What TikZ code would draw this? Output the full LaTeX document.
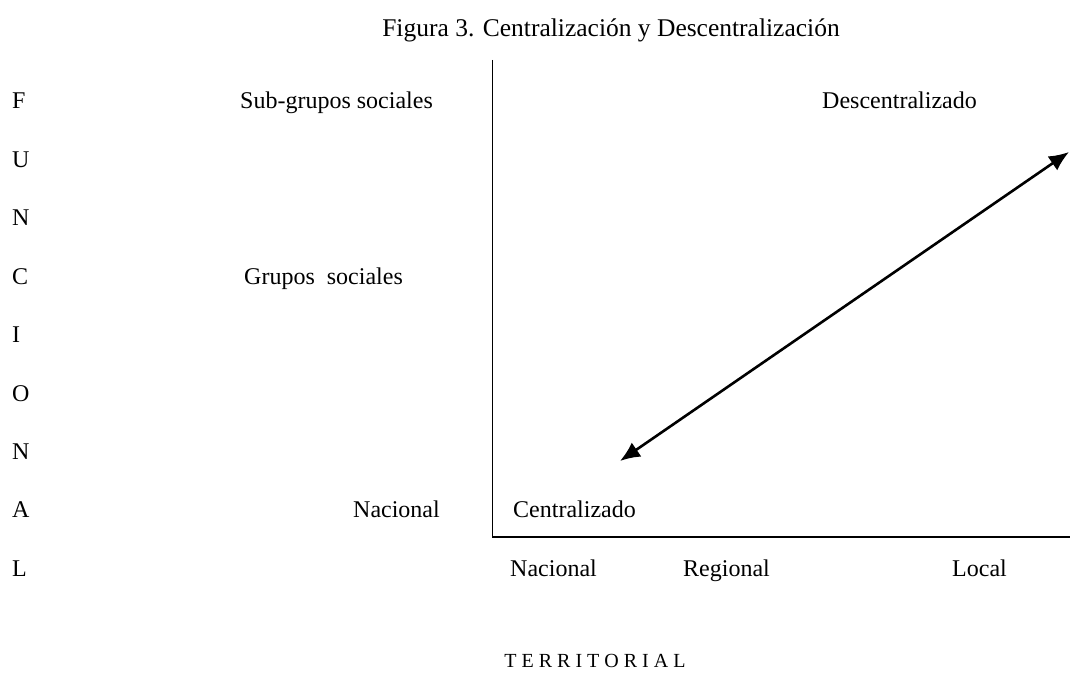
\documentclass[tikz,border=0pt]{standalone}
\usepackage{fontspec}
\setmainfont{Liberation Serif}
\usetikzlibrary{arrows.meta}

\begin{document}
\begin{tikzpicture}[x=1pt,y=-1pt,font=\fontsize{24}{28}\selectfont]
\tikzstyle{lbl}=[inner sep=0,anchor=base west]
\tikzstyle{axis}=[line width=1.8pt]
\tikzstyle{both}=[{Latex[length=20pt,width=17pt]}-{Latex[length=20pt,width=17pt]},line width=2.6pt]
\useasboundingbox (0,0) rectangle (1070,695);
\node[inner sep=0,anchor=base,font=\fontsize{25.5}{30}\selectfont] (title) at (611,37) {Figura 3. Centralización y Descentralización};
\foreach \l [count=\i] in {F,U,N,C,I,O,N,A,L}{
\node[lbl] (f\i) at ({12},{109+58.4*(\i-1)}) {\l};
};
\node[lbl] (sub) at (240,109) {Sub-grupos sociales};
\node[lbl] (grp) at (244,284.2) {Grupos\ \ sociales};
\node[lbl,anchor=base east] (nacf) at (440,517.8) {Nacional};
\node[lbl] (cent) at (513,517.8) {Centralizado};
\node[lbl] (desc) at (822,109) {Descentralizado};
\foreach \x/\y/\t in {510/nact/Nacional,683/reg/Regional,952/loc/Local}{
\node[lbl] (\y) at (\x,576.2) {\t};
};
\node[inner sep=0,anchor=base,font=\fontsize{20}{24}\selectfont] (terr) at (595,667) {T E R R I T O R I A L};
\coordinate (top) at (492.5,60);
\coordinate (orig) at (492.5,537);
\coordinate (xend) at (1070,537);
\draw[axis] (top) -- (orig) -- (xend);
\coordinate (a) at (620,461);
\coordinate (b) at (1069,152);
\draw[both] (a) -- (b);
\end{tikzpicture}
\end{document}
